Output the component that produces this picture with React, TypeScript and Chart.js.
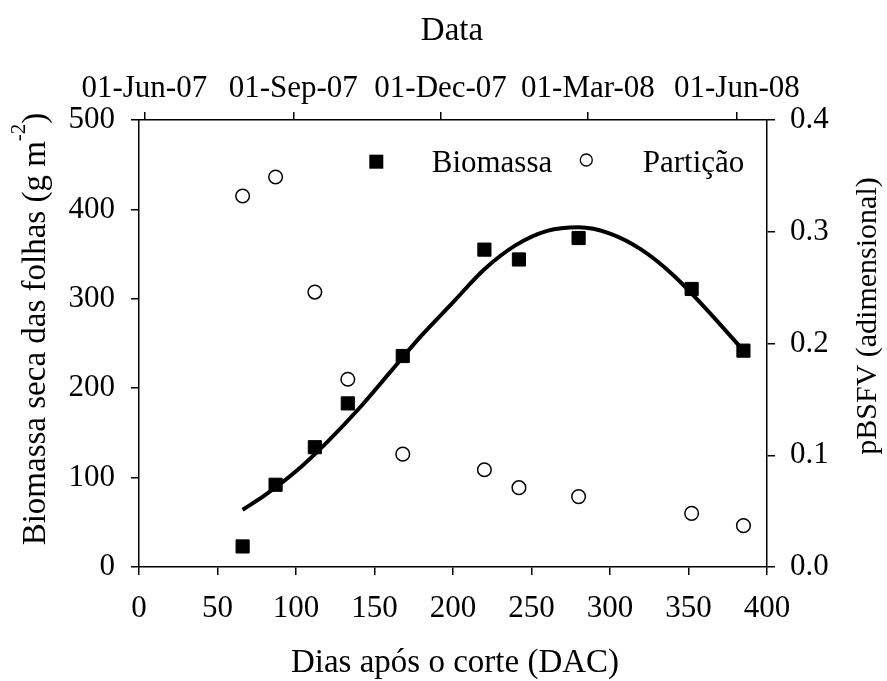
import React, { useEffect, useRef } from "react";
import { Chart, registerables } from "chart.js";

Chart.register(...registerables);

// ---- data ----
const days = [66, 87, 112, 133, 168, 220, 242, 280, 352, 385];
const biomassa = [23, 92, 134, 183, 236, 355, 344, 368, 311, 242];
const particao = [0.332, 0.349, 0.246, 0.168, 0.101, 0.087, 0.071, 0.063, 0.048, 0.037];

const fitDays = [66, 80, 100, 120, 140, 160, 180, 200, 220, 240, 260, 280, 300, 320, 340, 360, 385];
const fitValues = [64, 80, 107, 140, 177, 218, 259, 296, 333, 360, 376, 380, 373, 355, 327, 291, 242];

const topTickLabels = ["01-Jun-07", "01-Sep-07", "01-Dec-07", "01-Mar-08", "01-Jun-08"];
const topTickDays = [0, 92, 183, 274, 366];

const FONT = '"Liberation Serif", "Times New Roman", serif';

const titlesPlugin = {
  id: "customTitles",
  afterDraw(chart: any) {
    const ctx = chart.ctx;
    const ca = chart.chartArea;
    const cx = (ca.left + ca.right) / 2;
    ctx.save();
    ctx.fillStyle = "#000";
    ctx.textBaseline = "alphabetic";

    // top title
    ctx.font = `33px ${FONT}`;
    ctx.textAlign = "center";
    ctx.fillText("Data", cx - 1, 40);

    // bottom title
    ctx.fillText("Dias após o corte (DAC)", cx + 2, 671.5);

    // left title with superscript
    const main = "Biomassa seca das folhas (g m";
    const sup = "-2";
    const end = ")";
    ctx.font = `33px ${FONT}`;
    const wMain = ctx.measureText(main).width;
    const wEnd = ctx.measureText(end).width;
    ctx.font = `21px ${FONT}`;
    const wSup = ctx.measureText(sup).width;
    const total = wMain + wSup + wEnd;
    ctx.save();
    ctx.translate(45, 329);
    ctx.rotate(-Math.PI / 2);
    ctx.textAlign = "left";
    let x = -total / 2;
    ctx.font = `33px ${FONT}`;
    ctx.fillText(main, x, 0);
    x += wMain;
    ctx.font = `21px ${FONT}`;
    ctx.fillText(sup, x, -20);
    x += wSup;
    ctx.font = `33px ${FONT}`;
    ctx.fillText(end, x, 0);
    ctx.restore();

    // right title
    ctx.save();
    ctx.translate(876, 316);
    ctx.rotate(-Math.PI / 2);
    ctx.textAlign = "center";
    ctx.font = `30px ${FONT}`;
    ctx.fillText("pBSFV (adimensional)", 0, 0);
    ctx.restore();

    // legend inside plot
    ctx.font = `31px ${FONT}`;
    ctx.textAlign = "left";
    ctx.fillRect(369.3, 154.7, 14, 14);
    ctx.fillText("Biomassa", 431.7, 171.7);
    ctx.beginPath();
    ctx.lineWidth = 1.3;
    ctx.strokeStyle = "#000";
    ctx.arc(586.3, 160, 6, 0, Math.PI * 2);
    ctx.stroke();
    ctx.fillText("Partição", 642.7, 171.7);
    ctx.restore();
  },
};

export default function App() {
  const ref = useRef<HTMLCanvasElement | null>(null);

  useEffect(() => {
    if (!ref.current) return;
    const tickFont = { family: FONT, size: 31 };
    const gridOpts = {
      display: true,
      drawOnChartArea: false,
      drawTicks: true,
      tickLength: 8,
      color: "#000",
      lineWidth: 1.5,
    };
    const borderOpts = { display: true, color: "#000", width: 1.5 };

    const chart = new Chart(ref.current, {
      type: "scatter",
      data: {
        datasets: [
          {
            type: "scatter",
            label: "Partição",
            data: days.map((d, i) => ({ x: d, y: particao[i] })),
            xAxisID: "x",
            yAxisID: "y1",
            pointStyle: "circle",
            pointRadius: 6.8,
            pointBackgroundColor: "#fff",
            pointBorderColor: "#000",
            pointBorderWidth: 1.5,
            order: 3,
          } as any,
          {
            type: "line",
            label: "Ajuste",
            data: fitDays.map((d, i) => ({ x: d, y: fitValues[i] })),
            xAxisID: "x",
            yAxisID: "y",
            borderColor: "#000",
            borderWidth: 4,
            pointRadius: 0,
            fill: false,
            cubicInterpolationMode: "monotone",
            order: 2,
          } as any,
          {
            type: "scatter",
            label: "Biomassa",
            data: days.map((d, i) => ({ x: d, y: biomassa[i] })),
            xAxisID: "x",
            yAxisID: "y",
            pointStyle: "rect",
            pointRadius: 9.3,
            pointBackgroundColor: "#000",
            pointBorderColor: "#000",
            pointBorderWidth: 1,
            order: 1,
          } as any,
        ],
      },
      options: {
        responsive: false,
        animation: false,
        devicePixelRatio: 1,
        layout: { padding: 0 },
        plugins: {
          legend: { display: false },
          tooltip: { enabled: false },
          title: { display: false },
        },
        scales: {
          x: {
            type: "linear",
            position: "bottom",
            min: 0,
            max: 400,
            ticks: { stepSize: 50, color: "#000", font: tickFont, padding: 15, maxRotation: 0 },
            grid: gridOpts,
            border: borderOpts,
            afterFit: (s: any) => {
              s.height = 114;
            },
          },
          x2: {
            type: "linear",
            position: "top",
            min: -3.27,
            max: 384.6,
            ticks: {
              color: "#000",
              font: tickFont,
              padding: 5,
              autoSkip: false,
              maxRotation: 0,
              callback: (v: any) => {
                const i = topTickDays.indexOf(v);
                return i >= 0 ? topTickLabels[i] : "";
              },
            },
            afterBuildTicks: (s: any) => {
              s.ticks = topTickDays.map((v) => ({ value: v }));
            },
            grid: gridOpts,
            border: borderOpts,
            afterFit: (s: any) => {
              s.height = 120;
            },
          },
          y: {
            type: "linear",
            position: "left",
            min: 0,
            max: 500,
            ticks: { stepSize: 100, color: "#000", font: tickFont, padding: 16 },
            grid: gridOpts,
            border: borderOpts,
            afterFit: (s: any) => {
              s.width = 139;
            },
          },
          y1: {
            type: "linear",
            position: "right",
            min: 0,
            max: 0.4,
            ticks: {
              stepSize: 0.1,
              color: "#000",
              font: tickFont,
              padding: 15,
              callback: (v: any) => Number(v).toFixed(1),
            },
            grid: gridOpts,
            border: borderOpts,
            afterFit: (s: any) => {
              s.width = 120;
            },
          },
        },
      } as any,
      plugins: [titlesPlugin],
    });

    return () => chart.destroy();
  }, []);

  return (
    <canvas
      ref={ref}
      width={887}
      height={681}
      style={{ position: "absolute", left: 0, top: 0, display: "block", background: "#fff" }}
    />
  );
}
